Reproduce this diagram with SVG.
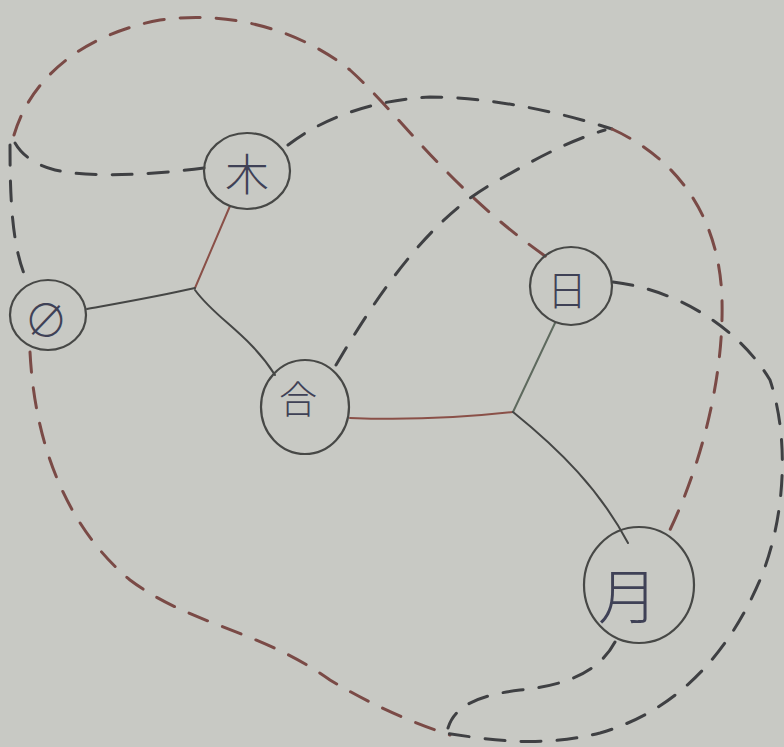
<svg xmlns="http://www.w3.org/2000/svg" width="784" height="747" viewBox="0 0 784 747">
<style>
.bg{fill:#c8c9c4}
.node{fill:none;stroke:#474846;stroke-width:2.2}
.lbl{font-family:"Noto Sans CJK JP","Noto Sans CJK SC","DejaVu Sans",sans-serif;font-weight:300;fill:#3f4156;text-anchor:middle;dominant-baseline:central}
.solid{fill:none;stroke:#454645;stroke-width:2;stroke-linecap:round}
.solid.red{stroke:#8a5048}
.solid.grn{stroke:#5e6a5e}
.dash{fill:none;stroke:#3f4043;stroke-width:3;stroke-dasharray:20 16;stroke-linecap:round}
.dash.red{stroke:#7a4a46}
</style>
<rect class="bg" x="0" y="0" width="784" height="747"/>
<g id="connectors">
<path class="solid red" d="M230,206 L195,288"/>
<path class="solid" d="M195,288 C160,296 120,303 87,309"/>
<path class="solid" d="M195,290 C215,318 250,335 275,375"/>
<path class="solid red" d="M350,418 C400,420 460,418 513,412"/>
<path class="solid grn" d="M513,412 L555,323"/>
<path class="solid" d="M513,412 C560,450 600,490 628,543"/>
<path class="dash red" d="M30,352 C35,450 70,530 130,580 C190,625 260,630 330,680 C380,710 420,725 450,735"/>
<path class="dash red" d="M14,135 C30,80 80,35 160,20 C230,10 300,30 350,70 C400,115 450,190 548,258"/>
<path class="dash" d="M10,145 C10,200 12,250 28,283"/>
<path class="dash" d="M204,168 C150,175 90,178 55,170 C35,165 22,155 15,143"/>
<path class="dash" d="M288,145 C320,120 370,100 430,97 C490,97 560,112 612,129"/>
<path class="dash red" d="M612,129 C680,160 720,220 722,300 C724,380 700,470 666,538"/>
<path class="dash" d="M336,365 C380,290 430,220 490,185 C530,162 565,142 605,130"/>
<path class="dash" d="M613,282 C680,290 740,330 770,380 C790,440 785,520 760,580 C730,650 680,710 600,733 C540,748 490,740 445,733"/>
<path class="dash" d="M615,642 C600,670 570,685 520,690 C480,695 455,705 448,728"/>
</g>
<g id="node-moku">
<ellipse class="node" cx="247" cy="171" rx="43" ry="38"/>
<text class="lbl" x="247" y="172" font-size="44">木</text>
</g>
<g id="node-phi">
<ellipse class="node" cx="48" cy="315" rx="38" ry="35"/>
<text class="lbl" x="46" y="318" font-size="44">∅</text>
</g>
<g id="node-go">
<ellipse class="node" cx="305" cy="407" rx="44" ry="47"/>
<text class="lbl" x="298" y="396" font-size="38">合</text>
</g>
<g id="node-nichi">
<ellipse class="node" cx="571" cy="286" rx="41" ry="39"/>
<text class="lbl" x="567" y="288" font-size="40">日</text>
</g>
<g id="node-tsuki">
<ellipse class="node" cx="639" cy="585" rx="55" ry="58"/>
<text class="lbl" x="628" y="592" font-size="60">月</text>
</g>
</svg>
